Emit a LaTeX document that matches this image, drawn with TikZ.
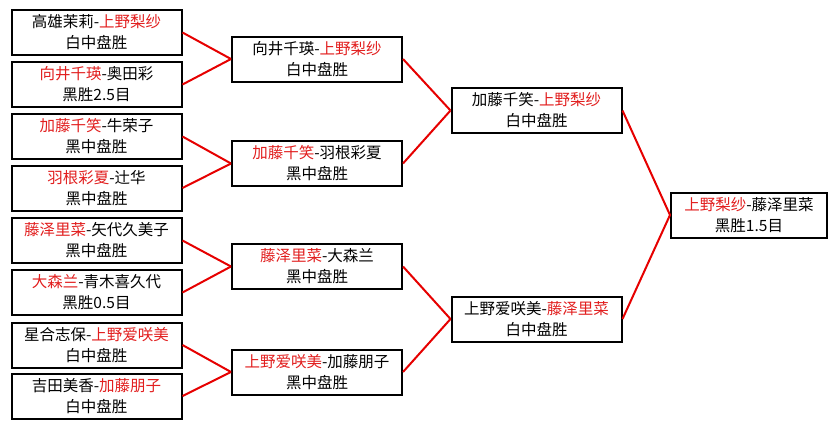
\documentclass[tikz,border=0pt]{standalone}
\usepackage{fontspec}
\setmainfont{Noto Sans CJK SC}
\usepackage{tikz}
\usetikzlibrary{positioning}
\definecolor{winred}{RGB}{226,30,30}
\definecolor{wirered}{RGB}{230,0,0}
\newcommand{\winner}[1]{\textcolor{winred}{#1}}
\tikzset{
  %% ---- boxes ----
  match/.style = {rectangle, draw=black, line width=2pt,
                  fill=white, minimum width=#1, minimum height=45pt,
                  inner sep=0pt, align=center,
                  font=\fontsize{15.5}{21}\selectfont},
  match/.default = 170pt,
  %% ---- connectors ----
  wire/.style  = {line width=2pt, color=wirered},
}
\begin{document}
\begin{tikzpicture}[x=1pt, y=-1pt]
  \useasboundingbox (0,0) rectangle (836,429);

  %% Round 1
  \node[match] (a1) at (96.5,32.5)  {高雄茉莉-\winner{上野梨纱}\\白中盘胜};
  \node[match] (a2) at (96.5,84.5)  {\winner{向井千瑛}-奥田彩\\黑胜2.5目};
  \node[match] (a3) at (96.5,136.5) {\winner{加藤千笑}-牛荣子\\黑中盘胜};
  \node[match] (a4) at (96.5,188)   {\winner{羽根彩夏}-辻华\\黑中盘胜};
  \node[match] (a5) at (96.5,240.5) {\winner{藤泽里菜}-矢代久美子\\黑中盘胜};
  \node[match] (a6) at (96.5,292.5) {\winner{大森兰}-青木喜久代\\黑胜0.5目};
  \node[match] (a7) at (96.5,345)   {星合志保-\winner{上野爱咲美}\\白中盘胜};
  \node[match] (a8) at (96.5,396)   {吉田美香-\winner{加藤朋子}\\白中盘胜};

  %% Round 2
  \node[match] (b1) at (317,59)    {向井千瑛-\winner{上野梨纱}\\白中盘胜};
  \node[match] (b2) at (317,163.5) {\winner{加藤千笑}-羽根彩夏\\黑中盘胜};
  \node[match] (b3) at (317,266.5) {\winner{藤泽里菜}-大森兰\\黑中盘胜};
  \node[match] (b4) at (317,372)   {\winner{上野爱咲美}-加藤朋子\\黑中盘胜};

  %% Semi-finals
  \node[match] (c1) at (536.5,110.5) {加藤千笑-\winner{上野梨纱}\\白中盘胜};
  \node[match] (c2) at (536.5,319)   {上野爱咲美-\winner{藤泽里菜}\\白中盘胜};

  %% Final
  \node[match=156pt] (d1) at (749,215) {\winner{上野梨纱}-藤泽里菜\\黑胜1.5目};

  %% Connectors
  \foreach \from/\to in {a1/b1, a2/b1, a3/b2, a4/b2, a5/b3, a6/b3, a7/b4, a8/b4,
                         b1/c1, b2/c1, b3/c2, b4/c2, c1/d1, c2/d1}
    \draw[wire] (\from.east) -- (\to.west);

\end{tikzpicture}
\end{document}
